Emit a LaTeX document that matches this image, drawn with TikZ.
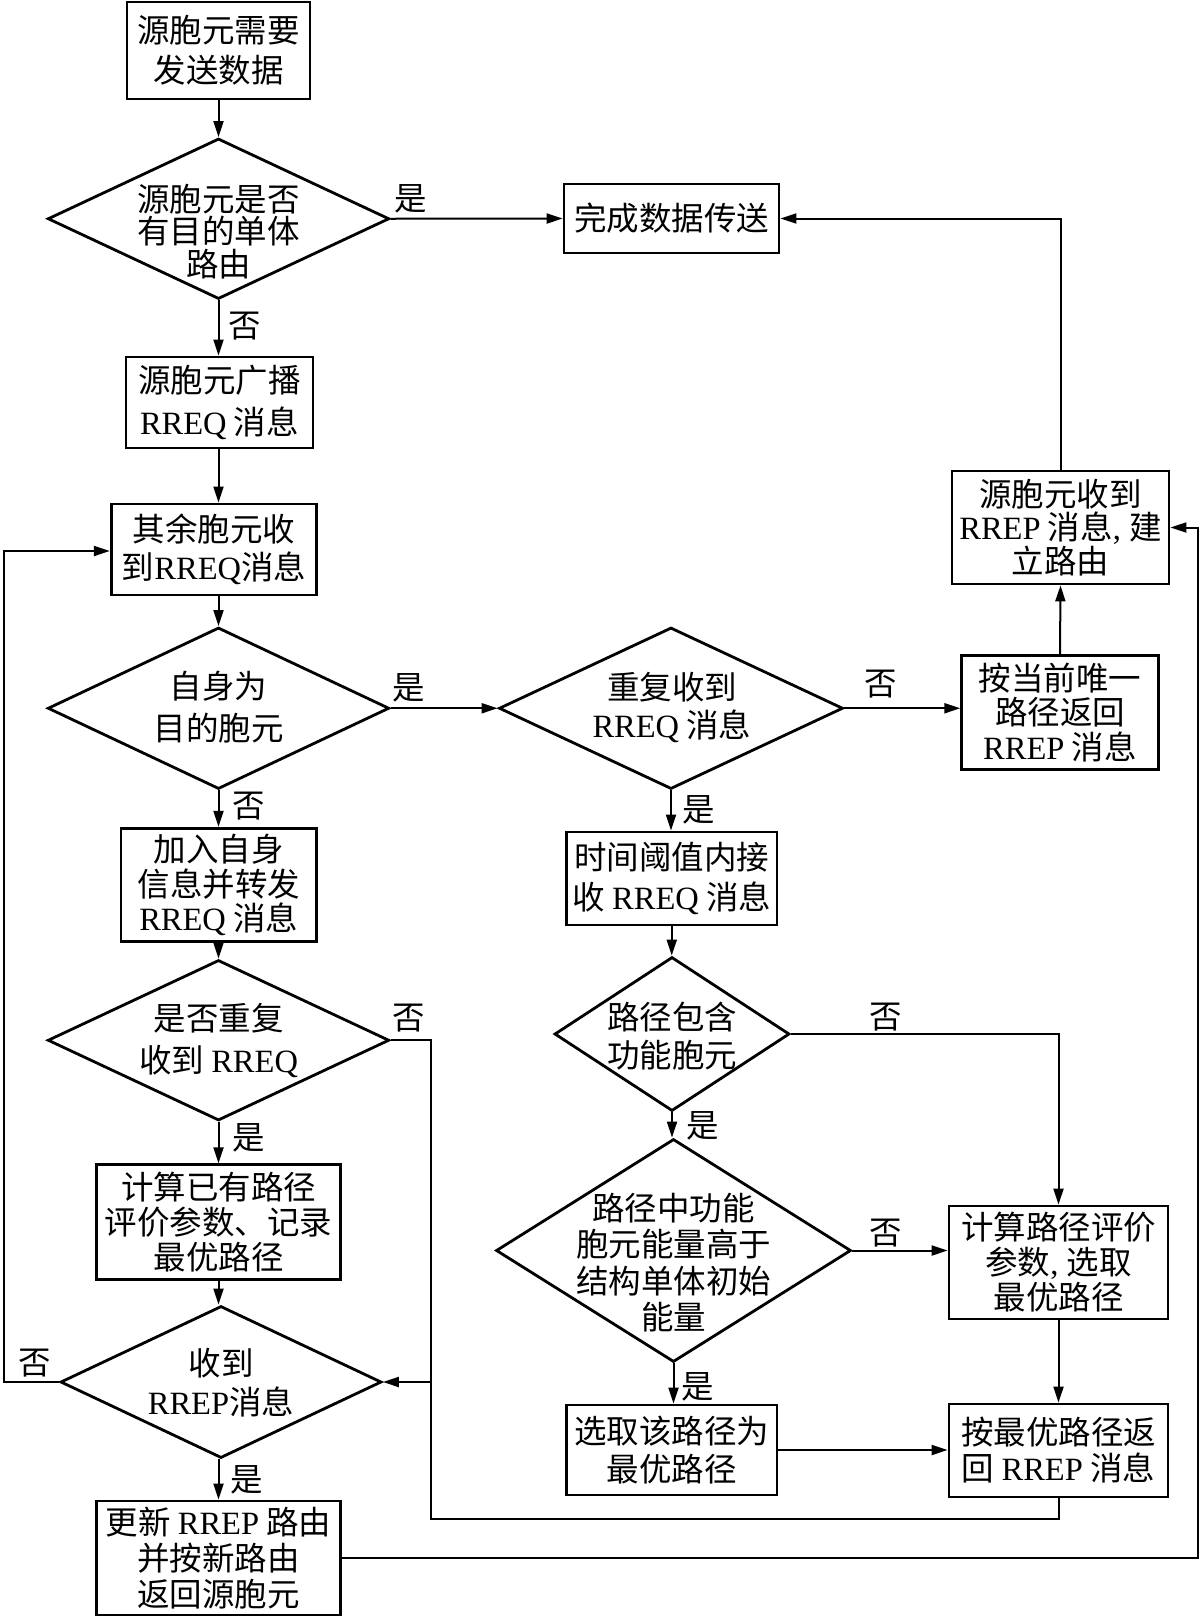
\documentclass[tikz,border=0pt]{standalone}
\usepackage{fontspec}
\setmainfont{Noto Sans CJK SC}
\newfontfamily\lat{Liberation Serif}
\usetikzlibrary{arrows.meta,shapes.geometric}
\newcommand{\rr}[1]{{\lat #1}}
\begin{document}
\begin{tikzpicture}[x=1pt,y=-1pt,
  every node/.style={font=\fontsize{32.5}{35}\selectfont, inner sep=0pt},
  ls/.style={font=\fontsize{32.5}{#1}\selectfont},
  box/.style={draw, line width=2.8pt, align=center, inner sep=0pt},
  dia/.style={draw, diamond, line width=2.8pt, inner sep=0pt},
  txt/.style={align=center},
  conn/.style={line width=2pt},
  arr/.style={conn, -{Triangle[length=16pt,width=10pt]}}
]
\useasboundingbox (0,0) rectangle (1200,1618);
\fill[white] (0,0) rectangle (1200,1618);

% main column
\node[box, minimum width=183pt, minimum height=97pt, ls=40] (b1) at (218.5,50.5) {源胞元需要\\发送数据};
\node[dia, minimum width=341.5pt, minimum height=160.5pt] (d1) at (218.5,218.75) {};
\node[txt, ls=32.5] (d1t) at (218.5,231.5) {源胞元是否\\有目的单体\\路由};
\node[box, minimum width=215pt, minimum height=69pt] (bdone) at (671.5,218.5) {完成数据传送};
\node[box, minimum width=187pt, minimum height=91pt, ls=42] (b2) at (219.5,402.5) {源胞元广播\\\rr{RREQ} 消息};
\node[box, minimum width=205.5pt, minimum height=91pt, ls=38] (b3) at (214,549.5) {其余胞元收\\到\rr{RREQ}消息};
\node[dia, minimum width=341.5pt, minimum height=161.5pt] (d2) at (218.5,708.25) {};
\node[txt, ls=42] (d2t) at (218.5,707) {自身为\\目的胞元};
\node[dia, minimum width=344pt, minimum height=161.5pt] (d3) at (671,708.25) {};
\node[txt, ls=38] (d3t) at (672,707) {重复收到\\\rr{RREQ} 消息};
\node[box, minimum width=196.5pt, minimum height=114pt, ls=34.5] (b4) at (1060,712.5) {按当前唯一\\路径返回\\\rr{RREP} 消息};
\node[box, minimum width=217pt, minimum height=113pt, ls=33.5] (b5) at (1060.5,527.5) {源胞元收到\\\rr{RREP} 消息\rr{, }建\\立路由};
\node[box, minimum width=195.5pt, minimum height=113.5pt, ls=34.5] (b6) at (218.75,885) {加入自身\\信息并转发\\\rr{RREQ} 消息};
\node[box, minimum width=210.5pt, minimum height=93pt, ls=40] (b7) at (671.75,878.5) {时间阈值内接\\收 \rr{RREQ} 消息};
\node[dia, minimum width=341.5pt, minimum height=160.5pt] (d4) at (218.5,1040.25) {};
\node[txt, ls=42] (d4t) at (218.5,1040) {是否重复\\收到 \rr{RREQ}};
\node[dia, minimum width=235pt, minimum height=154pt] (d5) at (672,1034) {};
\node[txt, ls=38] (d5t) at (672,1036) {路径包含\\功能胞元};
\node[dia, minimum width=355pt, minimum height=223pt] (d6) at (673.5,1250.5) {};
\node[txt, ls=36.5] (d6t) at (673.5,1262.5) {路径中功能\\胞元能量高于\\结构单体初始\\能量};
\node[box, minimum width=219pt, minimum height=113pt, ls=35] (b8) at (1058.5,1262.5) {计算路径评价\\参数\rr{, }选取\\最优路径};
\node[box, minimum width=210.5pt, minimum height=90pt, ls=38] (b9) at (671.75,1450) {选取该路径为\\最优路径};
\node[box, minimum width=219pt, minimum height=93pt, ls=36] (b10) at (1058.5,1450.5) {按最优路径返\\回 \rr{RREP} 消息};
\node[box, minimum width=244pt, minimum height=114.5pt, ls=35] (b11) at (218.5,1222) {计算已有路径\\评价参数、记录\\最优路径};
\node[dia, minimum width=321pt, minimum height=152pt] (d7) at (221,1382) {};
\node[txt, ls=39] (d7t) at (221,1382.5) {收到\\\rr{RREP}消息};
\node[box, minimum width=244pt, minimum height=114pt, ls=36] (b12) at (218.5,1558) {更新 \rr{RREP} 路由\\并按新路由\\返回源胞元};

% labels
\node (l1) at (411,198.5) {是};
\node (l2) at (245,326) {否};
\node (l3) at (409,688) {是};
\node (l4) at (881,684.5) {否};
\node (l5) at (249,806) {否};
\node (l6) at (699,810) {是};
\node (l7) at (409,1018) {否};
\node (l8) at (886,1017) {否};
\node (l9) at (703,1126) {是};
\node (l10) at (886,1233) {否};
\node (l11) at (697.6,1387) {是};
\node (l12) at (249,1138) {是};
\node (l13) at (34.4,1363) {否};
\node (l14) at (247,1480) {是};

% helper coordinates
\coordinate (mx) at (218.5,0);
\coordinate (lx) at (4,551);
\coordinate (rx) at (431,0);
\coordinate (by) at (0,1519);
\coordinate (rr) at (1198,0);

% main column arrows
\draw[arr] (b1.south) -- (mx |- d1.north);
\draw[arr] (d1.south) -- (mx |- b2.north);
\draw[arr] (mx |- b2.south) -- (mx |- b3.north);
\draw[arr] (mx |- b3.south) -- (mx |- d2.north);
\draw[arr] (d2.south) -- (mx |- b6.north);
\draw[arr] (mx |- b6.south) -- (mx |- d4.north);
\draw[arr] (d4.south) -- (mx |- b11.north);
\draw[arr] (mx |- b11.south) -- (mx |- d7.north);
\draw[arr] (mx |- d7.south) -- (mx |- b12.north);

% branches
\draw[arr] (d1.east) -- (bdone.west);
\draw[arr] (d2.east) -- (d3.west);
\draw[arr] (d3.east) -- (d3.east -| b4.west);
\draw[arr] (d3.south) -- (d3.south |- b7.north);
\draw[arr] (b7.south) -- (b7.south |- d5.north);
\draw[arr] (d5.east) -- (d5.east -| b8.north) -- (b8.north);
\draw[arr] (d5.south) -- (d5.south |- d6.north);
\draw[arr] (d6.east) -- (d6.east -| b8.west);
\draw[arr] (d6.south) -- (d6.south |- b9.north);
\draw[arr] (b8.south) -- (b10.north);
\draw[arr] (b9.east) -- (b9.east -| b10.west);
\draw[arr] (b4.north) -- (b5.south);
\draw[arr] (b5.north) -- (b5.north |- bdone.east) -- (bdone.east);

% loops
\draw[arr] (d7.west) -- (d7.west -| lx) -- (lx) -- (lx -| b3.west);
\draw[arr] (d4.east) -- (d4.east -| rx) -- (d7.east -| rx) -- (d7.east);
\draw[conn] (b10.south) -- (b10.south |- by) -- (by -| rx) -- (d7.east -| rx);
\draw[arr] (b12.east) -- (b12.east -| rr) -- (b5.east -| rr) -- (b5.east);
\end{tikzpicture}
\end{document}
